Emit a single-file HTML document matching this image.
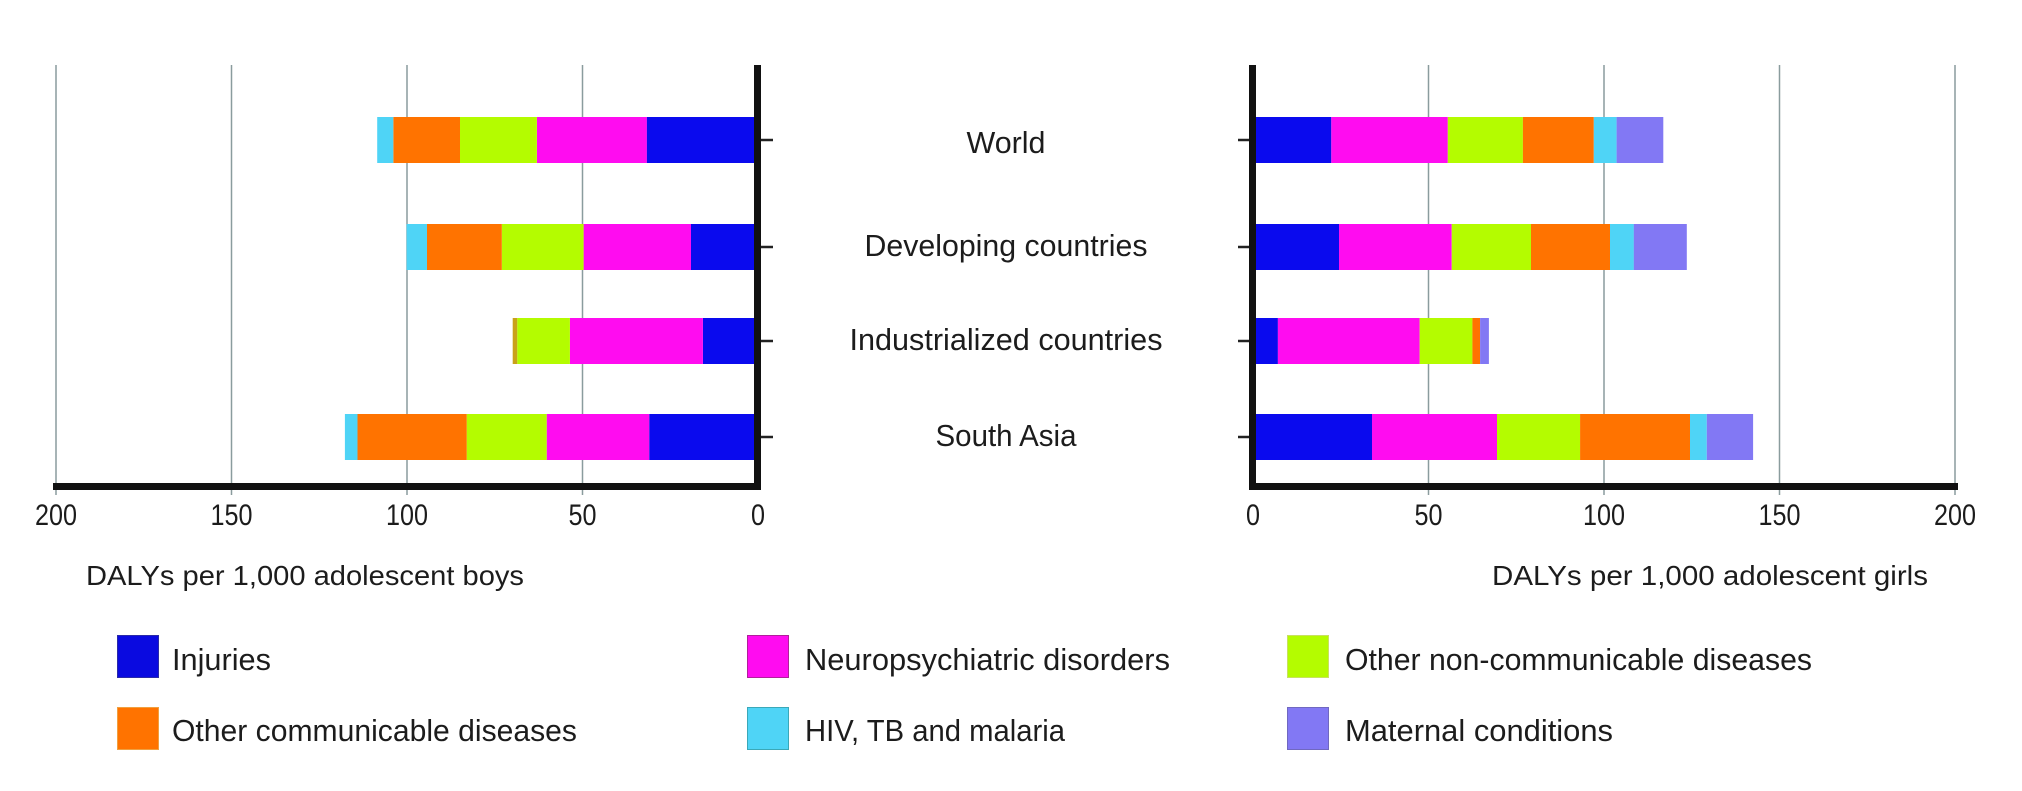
<!DOCTYPE html>
<html>
<head>
<meta charset="utf-8">
<style>
  html, body { margin: 0; padding: 0; background: #ffffff; }
  body { width: 2022px; height: 791px; overflow: hidden; }
  svg { display: block; }
  text { font-family: "Liberation Sans Narrow", "Liberation Sans", sans-serif; fill: #1c1c1c; }
</style>
</head>
<body>
<svg width="2022" height="791" viewBox="0 0 2022 791" xmlns="http://www.w3.org/2000/svg">
  <rect x="0" y="0" width="2022" height="791" fill="#ffffff"/>

  <!-- gridlines -->
  <g stroke="#8a9c9e" stroke-width="1.5">
    <line x1="56" y1="65" x2="56" y2="495"/>
    <line x1="231.5" y1="65" x2="231.5" y2="495"/>
    <line x1="407" y1="65" x2="407" y2="495"/>
    <line x1="582.5" y1="65" x2="582.5" y2="495"/>
    <line x1="1428.5" y1="65" x2="1428.5" y2="495"/>
    <line x1="1604" y1="65" x2="1604" y2="495"/>
    <line x1="1779.5" y1="65" x2="1779.5" y2="495"/>
    <line x1="1955" y1="65" x2="1955" y2="495"/>
  </g>

  <!-- LEFT bars (boys) -->
  <!-- World -->
  <rect x="646.7" y="117" width="111.3" height="46" fill="#0a0aee"/>
  <rect x="536.9" y="117" width="109.9" height="46" fill="#ff0cf0"/>
  <rect x="460.0" y="117" width="76.9" height="46" fill="#b4fc00"/>
  <rect x="393.3" y="117" width="66.7" height="46" fill="#ff7300"/>
  <rect x="377.2" y="117" width="16.1" height="46" fill="#4fd4f6"/>
  <!-- Developing -->
  <rect x="691.0" y="224" width="67" height="46" fill="#0a0aee"/>
  <rect x="583.6" y="224" width="107.4" height="46" fill="#ff0cf0"/>
  <rect x="501.8" y="224" width="81.8" height="46" fill="#b4fc00"/>
  <rect x="427.0" y="224" width="74.8" height="46" fill="#ff7300"/>
  <rect x="406.6" y="224" width="20.4" height="46" fill="#4fd4f6"/>
  <!-- Industrialized -->
  <rect x="702.9" y="318" width="55.1" height="46" fill="#0a0aee"/>
  <rect x="569.9" y="318" width="133.0" height="46" fill="#ff0cf0"/>
  <rect x="517.2" y="318" width="52.7" height="46" fill="#b4fc00"/>
  <rect x="512.7" y="318" width="4.5" height="46" fill="#c9a21a"/>
  <!-- South Asia -->
  <rect x="649.2" y="414" width="108.8" height="46" fill="#0a0aee"/>
  <rect x="546.7" y="414" width="102.5" height="46" fill="#ff0cf0"/>
  <rect x="466.7" y="414" width="80.0" height="46" fill="#b4fc00"/>
  <rect x="357.5" y="414" width="109.2" height="46" fill="#ff7300"/>
  <rect x="344.9" y="414" width="12.6" height="46" fill="#4fd4f6"/>

  <!-- RIGHT bars (girls) -->
  <!-- World -->
  <rect x="1253" y="117" width="78.3" height="46" fill="#0a0aee"/>
  <rect x="1331.3" y="117" width="116.5" height="46" fill="#ff0cf0"/>
  <rect x="1447.8" y="117" width="75.1" height="46" fill="#b4fc00"/>
  <rect x="1522.9" y="117" width="70.9" height="46" fill="#ff7300"/>
  <rect x="1593.8" y="117" width="22.8" height="46" fill="#4fd4f6"/>
  <rect x="1616.6" y="117" width="46.7" height="46" fill="#8278f4"/>
  <!-- Developing -->
  <rect x="1253" y="224" width="86.0" height="46" fill="#0a0aee"/>
  <rect x="1339.0" y="224" width="112.7" height="46" fill="#ff0cf0"/>
  <rect x="1451.7" y="224" width="79.3" height="46" fill="#b4fc00"/>
  <rect x="1531.0" y="224" width="79.0" height="46" fill="#ff7300"/>
  <rect x="1610.0" y="224" width="23.9" height="46" fill="#4fd4f6"/>
  <rect x="1633.8" y="224" width="53.0" height="46" fill="#8278f4"/>
  <!-- Industrialized -->
  <rect x="1253" y="318" width="24.9" height="46" fill="#0a0aee"/>
  <rect x="1277.9" y="318" width="141.8" height="46" fill="#ff0cf0"/>
  <rect x="1419.7" y="318" width="52.7" height="46" fill="#b4fc00"/>
  <rect x="1472.4" y="318" width="7.7" height="46" fill="#ff7300"/>
  <rect x="1480.1" y="318" width="8.8" height="46" fill="#8278f4"/>
  <!-- South Asia -->
  <rect x="1253" y="414" width="119.0" height="46" fill="#0a0aee"/>
  <rect x="1372.0" y="414" width="125.0" height="46" fill="#ff0cf0"/>
  <rect x="1497.0" y="414" width="83.2" height="46" fill="#b4fc00"/>
  <rect x="1580.1" y="414" width="109.9" height="46" fill="#ff7300"/>
  <rect x="1690.0" y="414" width="16.8" height="46" fill="#4fd4f6"/>
  <rect x="1706.8" y="414" width="46.3" height="46" fill="#8278f4"/>

  <!-- axes -->
  <rect x="754" y="65" width="7" height="425" fill="#111111"/>
  <rect x="53" y="483" width="708" height="7" fill="#111111"/>
  <rect x="1249" y="65" width="7" height="425" fill="#111111"/>
  <rect x="1249" y="483" width="709" height="7" fill="#111111"/>

  <!-- y ticks -->
  <g stroke="#222" stroke-width="2.5">
    <line x1="761" y1="140" x2="773" y2="140"/>
    <line x1="761" y1="247" x2="773" y2="247"/>
    <line x1="761" y1="341" x2="773" y2="341"/>
    <line x1="761" y1="437" x2="773" y2="437"/>
    <line x1="1238" y1="140" x2="1249" y2="140"/>
    <line x1="1238" y1="247" x2="1249" y2="247"/>
    <line x1="1238" y1="341" x2="1249" y2="341"/>
    <line x1="1238" y1="437" x2="1249" y2="437"/>
  </g>

  <!-- tick labels -->
  <g font-size="30" text-anchor="middle">
    <text x="56" y="525" textLength="42" lengthAdjust="spacingAndGlyphs">200</text>
    <text x="231.5" y="525" textLength="42" lengthAdjust="spacingAndGlyphs">150</text>
    <text x="407" y="525" textLength="42" lengthAdjust="spacingAndGlyphs">100</text>
    <text x="582.5" y="525" textLength="28" lengthAdjust="spacingAndGlyphs">50</text>
    <text x="758" y="525" textLength="14" lengthAdjust="spacingAndGlyphs">0</text>
    <text x="1253" y="525" textLength="14" lengthAdjust="spacingAndGlyphs">0</text>
    <text x="1428.5" y="525" textLength="28" lengthAdjust="spacingAndGlyphs">50</text>
    <text x="1604" y="525" textLength="42" lengthAdjust="spacingAndGlyphs">100</text>
    <text x="1779.5" y="525" textLength="42" lengthAdjust="spacingAndGlyphs">150</text>
    <text x="1955" y="525" textLength="42" lengthAdjust="spacingAndGlyphs">200</text>
  </g>

  <!-- axis titles -->
  <text x="86" y="585" font-size="28" textLength="438" lengthAdjust="spacingAndGlyphs">DALYs per 1,000 adolescent boys</text>
  <text x="1492" y="585" font-size="28" textLength="436" lengthAdjust="spacingAndGlyphs">DALYs per 1,000 adolescent girls</text>

  <!-- category labels -->
  <g font-size="31" text-anchor="middle">
    <text x="1006" y="153" textLength="79" lengthAdjust="spacingAndGlyphs">World</text>
    <text x="1006" y="256" textLength="283" lengthAdjust="spacingAndGlyphs">Developing countries</text>
    <text x="1006" y="350" textLength="313" lengthAdjust="spacingAndGlyphs">Industrialized countries</text>
    <text x="1006" y="446" textLength="141" lengthAdjust="spacingAndGlyphs">South Asia</text>
  </g>

  <!-- legend -->
  <rect x="117.5" y="635.5" width="41" height="42" fill="#0a0ae0" stroke="#2a2aa8" stroke-width="1"/>
  <rect x="747.5" y="635.5" width="41" height="42" fill="#ff0cf0" stroke="#b0209a" stroke-width="1"/>
  <rect x="1287.5" y="635.5" width="41" height="42" fill="#b4fc00" stroke="#c8e060" stroke-width="1"/>
  <rect x="117.5" y="707.5" width="41" height="42" fill="#ff7300" stroke="#f0a040" stroke-width="1"/>
  <rect x="747.5" y="707.5" width="41" height="42" fill="#4fd4f6" stroke="#3aa8b8" stroke-width="1"/>
  <rect x="1287.5" y="707.5" width="41" height="42" fill="#8278f4" stroke="#7068c0" stroke-width="1"/>

  <g font-size="31">
    <text x="172" y="670" textLength="99" lengthAdjust="spacingAndGlyphs">Injuries</text>
    <text x="805" y="670" textLength="365" lengthAdjust="spacingAndGlyphs">Neuropsychiatric disorders</text>
    <text x="1345" y="670" textLength="467" lengthAdjust="spacingAndGlyphs">Other non-communicable diseases</text>
    <text x="172" y="741" textLength="405" lengthAdjust="spacingAndGlyphs">Other communicable diseases</text>
    <text x="805" y="741" textLength="260" lengthAdjust="spacingAndGlyphs">HIV, TB and malaria</text>
    <text x="1345" y="741" textLength="268" lengthAdjust="spacingAndGlyphs">Maternal conditions</text>
  </g>
</svg>
</body>
</html>
